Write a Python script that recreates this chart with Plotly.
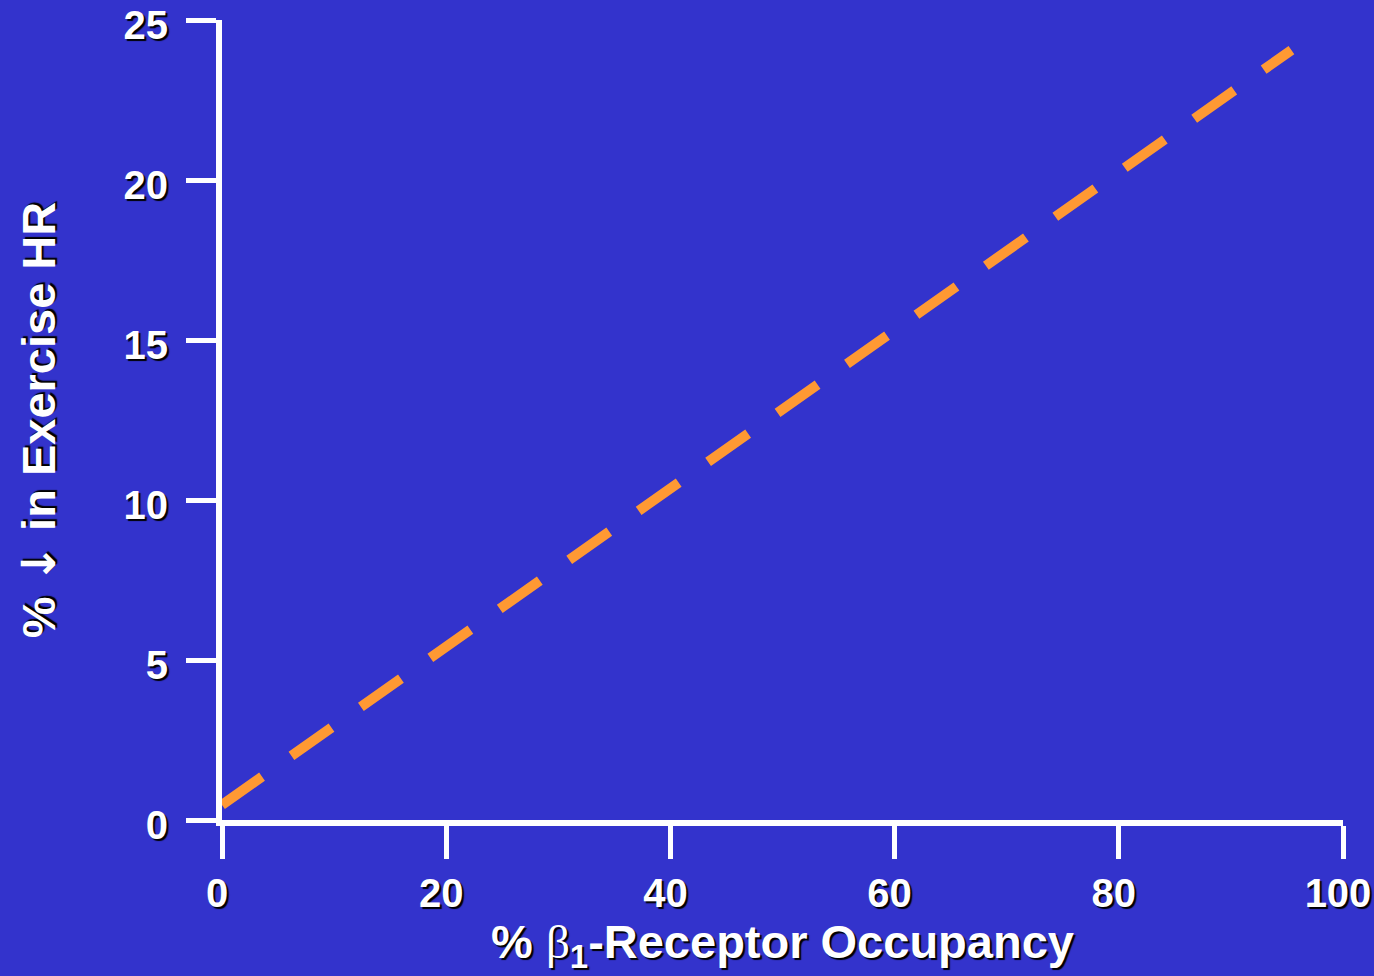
import plotly.graph_objects as go

# Data
occupancy = [0, 95.4]          # % beta1-receptor occupancy
hr_decrease = [0.47, 24.06]    # % decrease in exercise HR

x_ticks = [0, 20, 40, 60, 80, 100]
y_ticks = [0, 5, 10, 15, 20, 25]

BG = "#3333CC"
ORANGE = "#FF9933"
FONT = "Liberation Sans, Arial, sans-serif"
SHADOW = "2px 2px 1px #000000"

fig = go.Figure()
fig.add_trace(go.Scatter(
    x=occupancy, y=hr_decrease, mode="lines",
    line=dict(color=ORANGE, width=10, dash="49px,36px"),
    showlegend=False, hoverinfo="skip",
))

tick_font = dict(family=FONT, size=40, color="white", weight="bold", shadow=SHADOW)
title_font = dict(family=FONT, size=47, color="white", weight="bold", shadow=SHADOW)

fig.update_layout(
    width=1374, height=976,
    paper_bgcolor=BG, plot_bgcolor=BG,
    margin=dict(l=222, r=31, t=20, b=156),
    xaxis=dict(
        range=[0, 100], tickvals=x_ticks, ticktext=[str(v) for v in x_ticks],
        showgrid=False, zeroline=False,
        showline=True, linecolor="white", linewidth=6,
        ticks="outside", ticklen=33, tickwidth=5, tickcolor="white",
        tickfont=tick_font, ticklabelstandoff=0, ticklabeloverflow="allow",
        ticklabelshift=-5,
        title=dict(
            text='% <span style="font-family:Liberation Serif;font-weight:normal">β</span>'
                 '<sub>1</sub>-Receptor Occupancy',
            font=title_font, standoff=13),
        automargin=False,
    ),
    yaxis=dict(
        range=[0, 25], tickvals=y_ticks, ticktext=[str(v) for v in y_ticks],
        showgrid=False, zeroline=False,
        showline=True, linecolor="white", linewidth=6,
        ticks="outside", ticklen=30, tickwidth=5, tickcolor="white",
        tickfont=tick_font, ticklabelstandoff=10, ticklabeloverflow="allow",
        ticklabelshift=5,
        title=dict(text='% <span style="font-family:DejaVu Sans">↓</span> in Exercise HR',
                   font=title_font, standoff=55),
        automargin=False,
    ),
)

fig.write_html(
    "out.html",
    config={"displayModeBar": False},
    post_script="document.body.style.margin='0';document.body.style.padding='0';",
)
